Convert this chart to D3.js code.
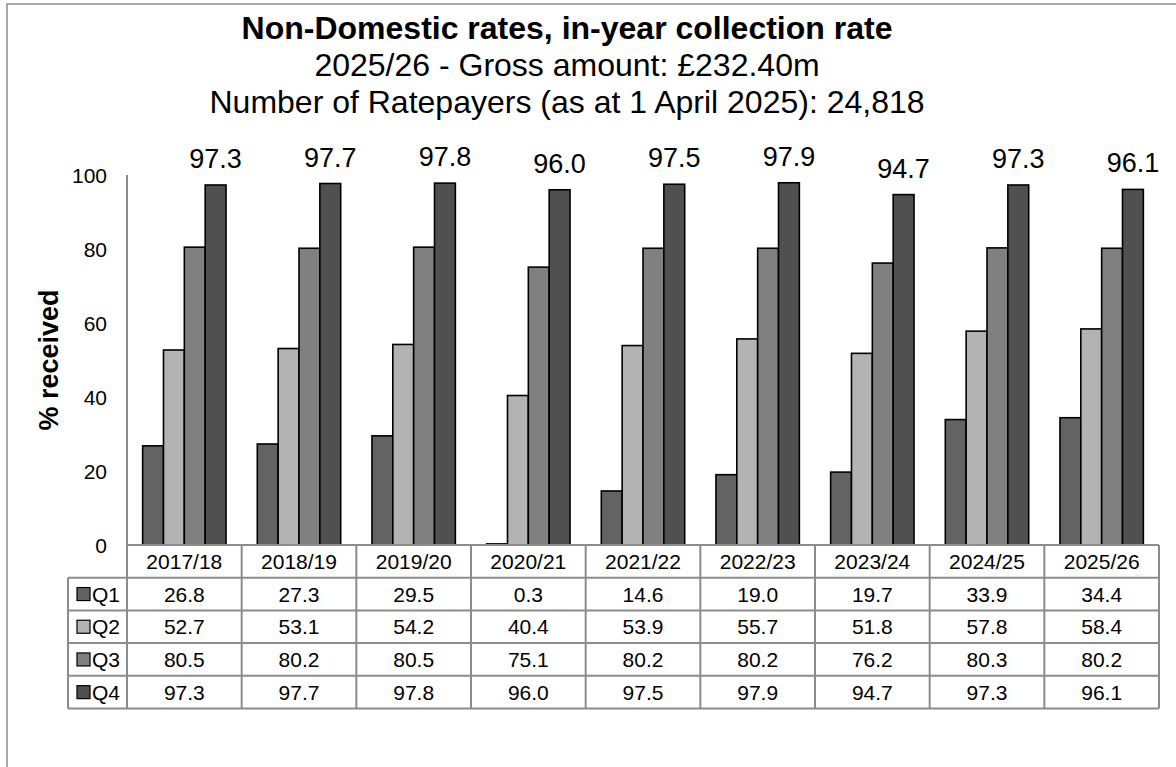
<!DOCTYPE html>
<html>
<head>
<meta charset="utf-8">
<script src="https://cdn.jsdelivr.net/npm/d3@7"></script>
<style>
  html, body { margin: 0; padding: 0; background: #fff; }
  svg { display: block; font-family: "Liberation Sans", Arial, sans-serif; }
</style>
</head>
<body>
<svg id="chart" width="1176" height="767"></svg>
<script>
// Financial years shown along the x axis
const years = ["2017/18", "2018/19", "2019/20", "2020/21", "2021/22", "2022/23", "2023/24", "2024/25", "2025/26"];
// Quarters (cumulative % of gross rates received by end of quarter)
const quarters = ["Q1", "Q2", "Q3", "Q4"];
const q1 = [26.8, 27.3, 29.5, 0.3, 14.6, 19.0, 19.7, 33.9, 34.4];
const q2 = [52.7, 53.1, 54.2, 40.4, 53.9, 55.7, 51.8, 57.8, 58.4];
const q3 = [80.5, 80.2, 80.5, 75.1, 80.2, 80.2, 76.2, 80.3, 80.2];
const q4 = [97.3, 97.7, 97.8, 96.0, 97.5, 97.9, 94.7, 97.3, 96.1];
const yTicks = [0, 20, 40, 60, 80, 100];
const titleLines = [
  "Non-Domestic rates, in-year collection rate",
  "2025/26 - Gross amount: £232.40m",
  "Number of Ratepayers (as at 1 April 2025): 24,818"
];

const series = [q1, q2, q3, q4];
const fills = ["#636363", "#b3b3b3", "#808080", "#505050"];
const gridColor = "#8c8c8c";

const svg = d3.select("#chart");

// Chart frame (extends past the bottom/right of the view)
svg.append("rect")
  .attr("x", 7).attr("y", 4).attr("width", 1200).attr("height", 800)
  .attr("fill", "none").attr("stroke", gridColor).attr("stroke-width", 1.5);

// Titles
const titleX = 567;
const titleY = [39, 76, 113];
svg.selectAll("text.title").data(titleLines).join("text")
  .attr("class", "title")
  .attr("x", titleX).attr("y", (d, i) => titleY[i])
  .attr("text-anchor", "middle")
  .attr("font-size", 32)
  .attr("font-weight", (d, i) => i === 0 ? "bold" : "normal")
  .attr("fill", "#000")
  .text(d => d);

// Scales
const plotLeft = 127, plotRight = 1159;
const y = d3.scaleLinear().domain([0, 100]).range([545, 175]);
const x = d3.scaleBand().domain(years).range([plotLeft, plotRight]).paddingInner(0).paddingOuter(0);
const xq = d3.scaleBand().domain(quarters).range([0, x.bandwidth()]).paddingInner(0).paddingOuter(0.75);

// Y axis line
svg.append("line")
  .attr("x1", plotLeft).attr("x2", plotLeft)
  .attr("y1", y(100)).attr("y2", y(0))
  .attr("stroke", gridColor).attr("stroke-width", 2);

// Y tick labels
svg.selectAll("text.ytick").data(yTicks).join("text")
  .attr("class", "ytick")
  .attr("x", 107).attr("y", d => y(d))
  .attr("dy", "0.36em")
  .attr("text-anchor", "end")
  .attr("font-size", 21)
  .attr("fill", "#000")
  .text(d => d);

// Y axis title
svg.append("text")
  .attr("transform", `translate(58,${(y(0) + y(100)) / 2}) rotate(-90)`)
  .attr("text-anchor", "middle")
  .attr("font-size", 27)
  .attr("font-weight", "bold")
  .attr("fill", "#000")
  .text("% received");

// Bars
const groups = svg.selectAll("g.year").data(years).join("g")
  .attr("class", "year")
  .attr("transform", d => `translate(${x(d)},0)`);

groups.each(function(yr, yi) {
  d3.select(this).selectAll("rect").data(quarters).join("rect")
    .attr("x", q => xq(q))
    .attr("width", xq.bandwidth())
    .attr("y", (q, qi) => y(series[qi][yi]))
    .attr("height", (q, qi) => y(0) - y(series[qi][yi]))
    .attr("fill", (q, qi) => fills[qi])
    .attr("stroke", "#000")
    .attr("stroke-width", 1.6);
});

// Q4 value labels above the final bar
groups.append("text")
  .attr("x", xq("Q4") + xq.bandwidth() / 2)
  .attr("y", (d, i) => y(q4[i]) - 17)
  .attr("text-anchor", "middle")
  .attr("font-size", 27)
  .attr("fill", "#000")
  .text((d, i) => q4[i].toFixed(1));

// Data table below the plot
const headerTop = y(0);
const rowH = 32.7;
const rowTop = headerTop + rowH;
const tableBottom = rowTop + rowH * quarters.length;
const legendLeft = 68;

// Horizontal rules
svg.append("line")
  .attr("x1", plotLeft).attr("x2", plotRight)
  .attr("y1", headerTop).attr("y2", headerTop)
  .attr("stroke", gridColor).attr("stroke-width", 2);
svg.selectAll("line.hrow").data(d3.range(quarters.length + 1)).join("line")
  .attr("class", "hrow")
  .attr("x1", legendLeft).attr("x2", plotRight)
  .attr("y1", i => rowTop + i * rowH).attr("y2", i => rowTop + i * rowH)
  .attr("stroke", gridColor).attr("stroke-width", 2);

// Vertical rules
const colEdges = years.map(d => x(d)).concat([plotRight]);
svg.selectAll("line.vcol").data(colEdges).join("line")
  .attr("class", "vcol")
  .attr("x1", d => d).attr("x2", d => d)
  .attr("y1", headerTop).attr("y2", tableBottom)
  .attr("stroke", gridColor).attr("stroke-width", 2);
svg.append("line")
  .attr("x1", legendLeft).attr("x2", legendLeft)
  .attr("y1", rowTop).attr("y2", tableBottom)
  .attr("stroke", gridColor).attr("stroke-width", 2);

// Year headers
svg.selectAll("text.yr").data(years).join("text")
  .attr("class", "yr")
  .attr("x", d => x(d) + x.bandwidth() / 2)
  .attr("y", headerTop + rowH / 2)
  .attr("dy", "0.36em")
  .attr("text-anchor", "middle")
  .attr("font-size", 21)
  .attr("fill", "#000")
  .text(d => d);

// Table rows: legend key + values
quarters.forEach((q, qi) => {
  const cy = rowTop + qi * rowH + rowH / 2;
  svg.append("rect")
    .attr("x", 77).attr("y", cy - 6.5)
    .attr("width", 13).attr("height", 13)
    .attr("fill", fills[qi]).attr("stroke", "#000").attr("stroke-width", 1.2);
  svg.append("text")
    .attr("x", 92).attr("y", cy).attr("dy", "0.36em")
    .attr("font-size", 21).attr("fill", "#000")
    .text(q);
  svg.selectAll(null).data(years).join("text")
    .attr("x", d => x(d) + x.bandwidth() / 2)
    .attr("y", cy).attr("dy", "0.36em")
    .attr("text-anchor", "middle")
    .attr("font-size", 21).attr("fill", "#000")
    .text((d, yi) => series[qi][yi].toFixed(1));
});
</script>
</body>
</html>
